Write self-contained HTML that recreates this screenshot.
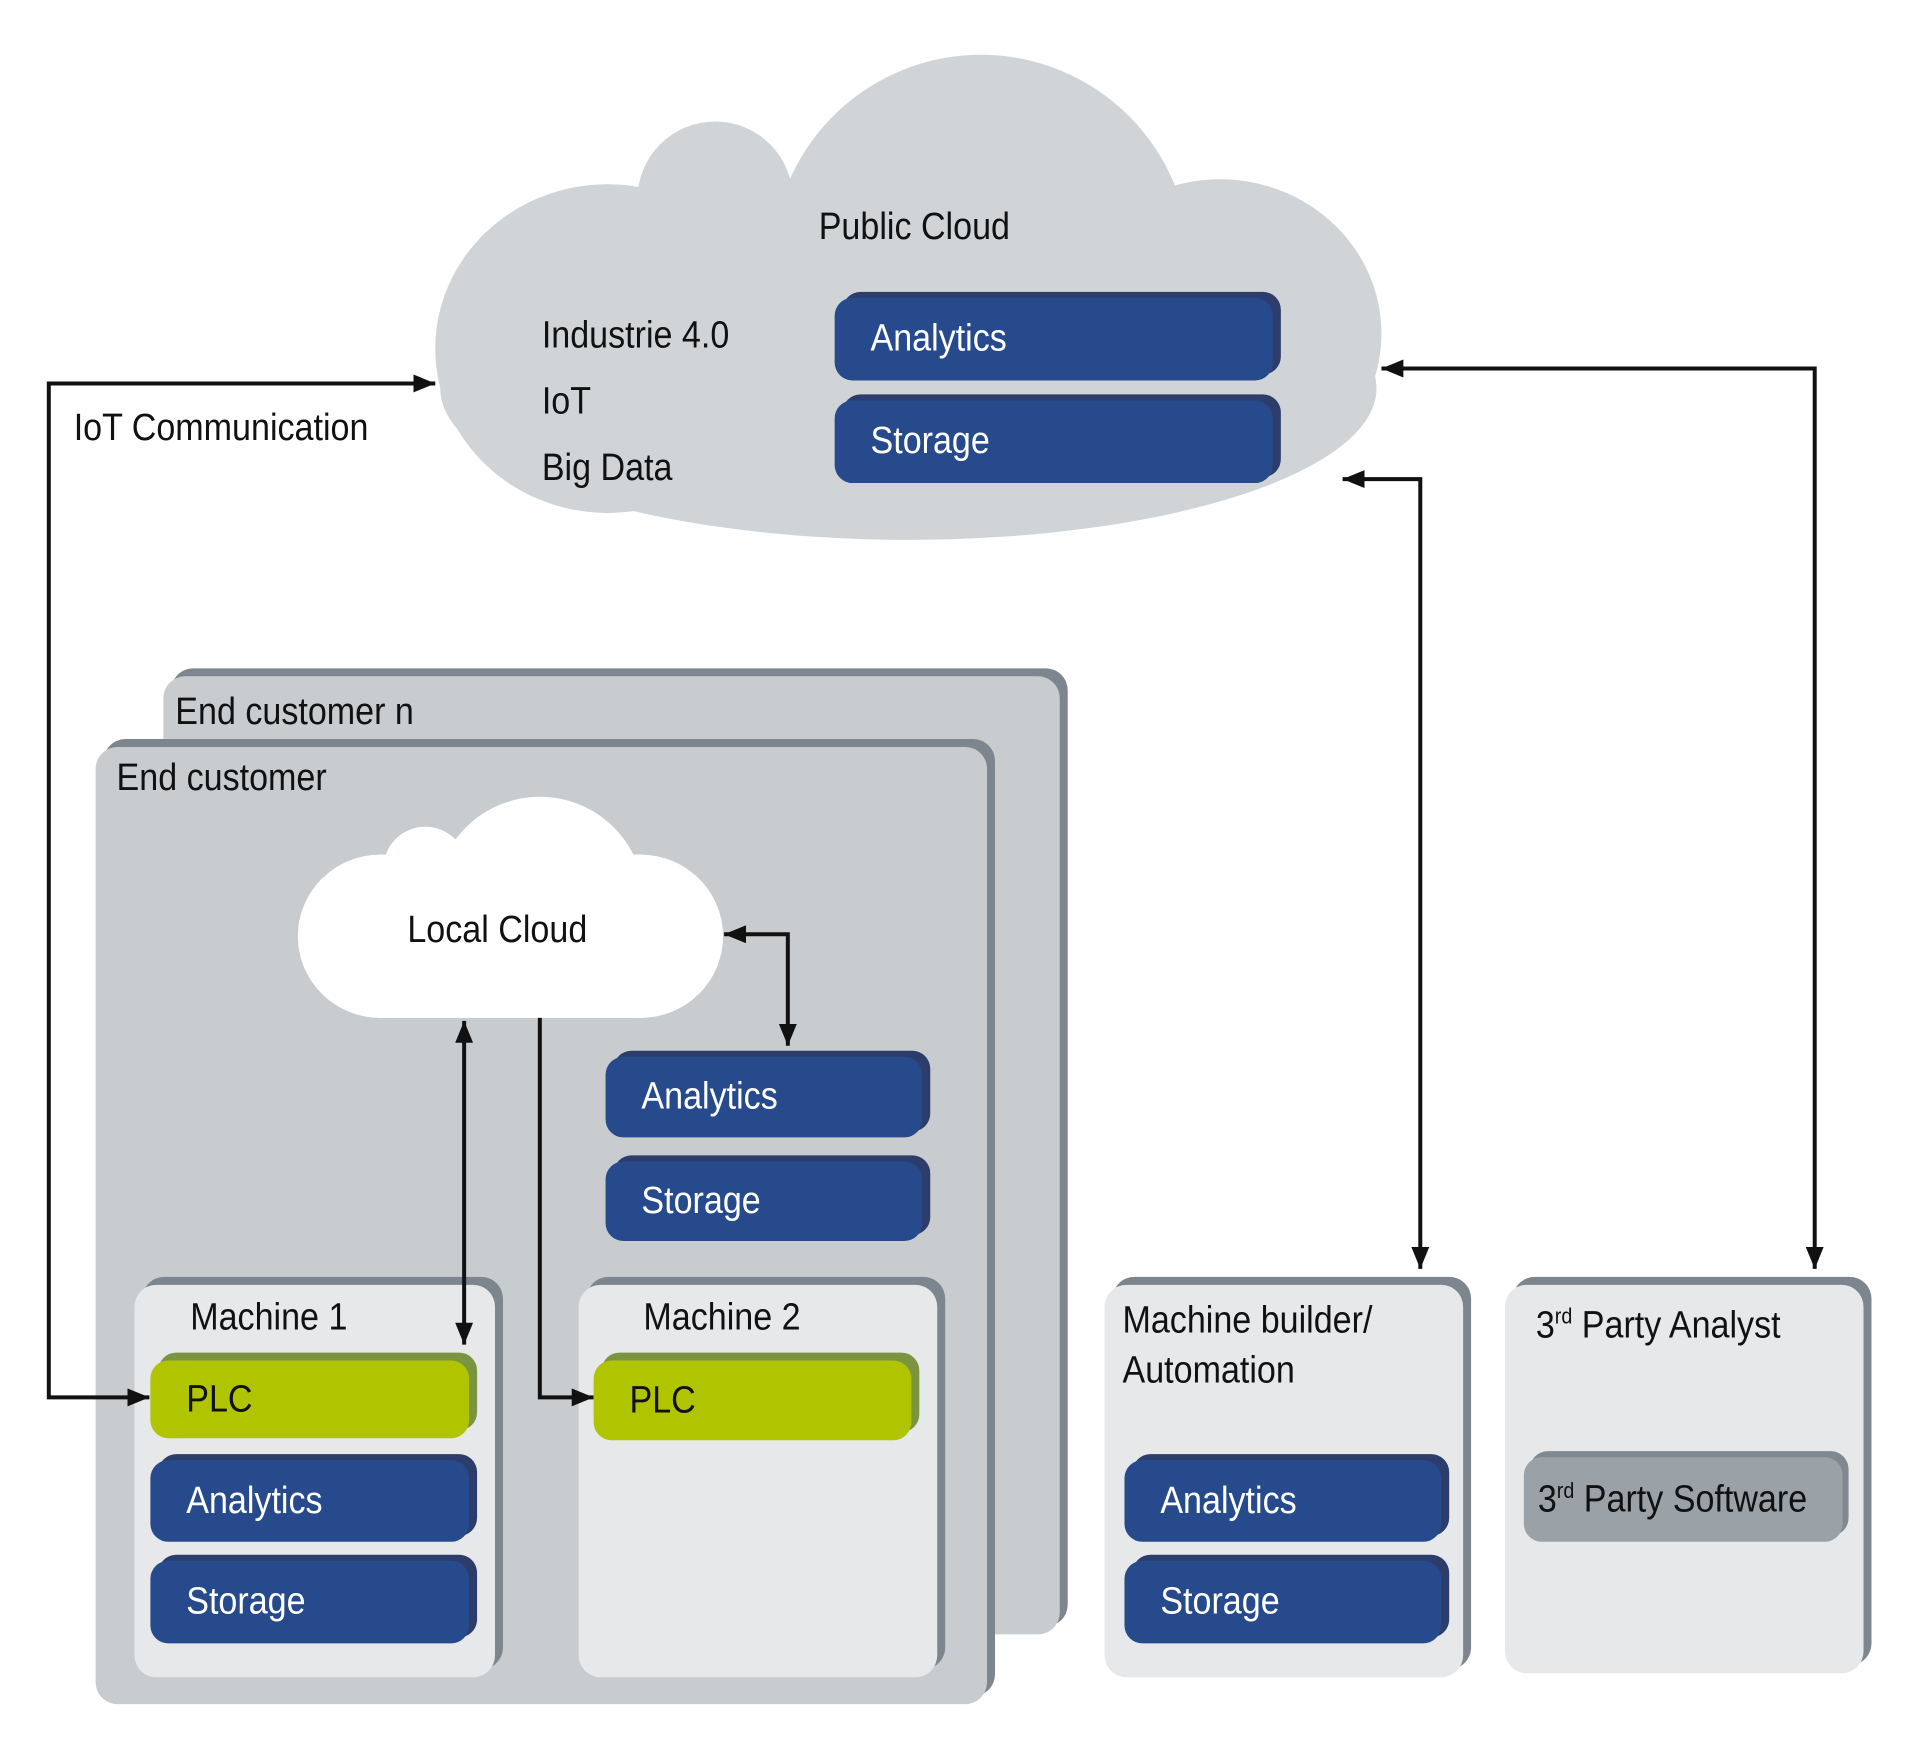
<!DOCTYPE html>
<html><head><meta charset="utf-8"><style>
body{margin:0;width:1920px;height:1745px;background:#fff;position:relative;overflow:hidden;font-family:"Liberation Sans",sans-serif}
#w{position:absolute;left:0;top:0;width:1920px;height:1745px;transform:scale(0.996,0.996);transform-origin:0 0}
.t{position:absolute;font-size:38px;color:#111;white-space:nowrap;transform:scaleX(0.9);transform-origin:left center;line-height:1}
.panel{position:absolute;border-radius:22px;box-shadow:8px -8px 0 #7d868e}
.btn{position:absolute;border-radius:18px;color:#fff;font-size:38px;box-sizing:border-box;padding-left:36px;display:flex;align-items:center}
.btn span{display:inline-block;transform:scaleX(0.9);transform-origin:left center}
.blue{background:#264a8b;box-shadow:8px -6px 0 #2d3d6b}
.plc{background:#b0c400;box-shadow:8px -8px 0 #7b9440;color:#111}
.sw{background:#9aa2a8;box-shadow:6px -6px 0 #80898f;color:#111}
</style></head><body><div id="w">
<svg width="1920" height="1745" style="position:absolute;left:0;top:0">
<g fill="#d0d4d7">
<ellipse cx="912" cy="390" rx="470" ry="152"/>
<ellipse cx="610" cy="350" rx="173" ry="165"/>
<ellipse cx="1225" cy="335" rx="162" ry="155"/>
<circle cx="985" cy="265" r="210"/>
<circle cx="718" cy="200" r="78"/>
<rect x="700" y="200" width="420" height="200"/>
</g>
</svg>
<div class="panel" style="left:164px;top:679px;width:900px;height:962px;background:#c8cccf"></div>
<div class="panel" style="left:96px;top:750px;width:895px;height:961px;background:#c8cccf"></div>
<div class="panel" style="left:135px;top:1290px;width:362px;height:394px;background:#e6e8ea"></div>
<div class="panel" style="left:581px;top:1290px;width:360px;height:394px;background:#e6e8ea"></div>
<div class="panel" style="left:1109px;top:1290px;width:360px;height:394px;background:#e6e8ea"></div>
<div class="panel" style="left:1511px;top:1290px;width:360px;height:390px;background:#e6e8ea"></div>
<svg width="1920" height="1745" style="position:absolute;left:0;top:0">
<g fill="#fff">
<ellipse cx="382" cy="940" rx="83" ry="82"/>
<ellipse cx="643" cy="940" rx="83" ry="82"/>
<rect x="380" y="858" width="265" height="164"/>
<circle cx="542" cy="905" r="105"/>
<circle cx="427" cy="872" r="42"/>
</g>
<defs>
<marker id="b" markerWidth="22" markerHeight="18" refX="22" refY="9" orient="auto" markerUnits="userSpaceOnUse"><path d="M0,0 L22,9 L0,18z" fill="#111"/></marker>
<marker id="c" markerWidth="22" markerHeight="18" refX="0" refY="9" orient="auto" markerUnits="userSpaceOnUse"><path d="M22,0 L0,9 L22,18z" fill="#111"/></marker></defs>
<g stroke="#111" stroke-width="4" fill="none">
<path d="M437,385 H49 V1403 H150" marker-start="url(#c)" marker-end="url(#b)"/>
<path d="M1387,370 H1822 V1274" marker-start="url(#c)" marker-end="url(#b)"/>
<path d="M1348,481 H1426 V1274" marker-start="url(#c)" marker-end="url(#b)"/>
<path d="M727,938 H791 V1050" marker-start="url(#c)" marker-end="url(#b)"/>
<path d="M466,1025 V1350" marker-start="url(#c)" marker-end="url(#b)"/>
<path d="M542,1022 V1403 H596" marker-end="url(#b)"/>
</g>
</svg>
<div class="t" style="left:822px;top:209px">Public Cloud</div>
<div class="t" style="left:544px;top:318px">Industrie 4.0</div>
<div class="t" style="left:544px;top:384px">IoT</div>
<div class="t" style="left:544px;top:451px">Big Data</div>
<div class="t" style="left:74px;top:411px">IoT Communication</div>
<div class="t" style="left:176px;top:696px">End customer n</div>
<div class="t" style="left:117px;top:762px">End customer</div>
<div class="t" style="left:409px;top:915px">Local Cloud</div>
<div class="t" style="left:191px;top:1304px">Machine 1</div>
<div class="t" style="left:646px;top:1304px">Machine 2</div>
<div class="t" style="left:1127px;top:1307px">Machine builder/</div>
<div class="t" style="left:1127px;top:1357px">Automation</div>
<div class="t" style="left:1542px;top:1311px">3<sup style="font-size:22px">rd</sup> Party Analyst</div>
<div class="btn blue" style="left:838px;top:299px;width:440px;height:83px"><span>Analytics</span></div>
<div class="btn blue" style="left:838px;top:402px;width:440px;height:83px"><span>Storage</span></div>
<div class="btn blue" style="left:608px;top:1061px;width:318px;height:81px"><span>Analytics</span></div>
<div class="btn blue" style="left:608px;top:1166px;width:318px;height:80px"><span>Storage</span></div>
<div class="btn plc" style="left:151px;top:1366px;width:320px;height:78px"><span>PLC</span></div>
<div class="btn plc" style="left:596px;top:1366px;width:319px;height:80px"><span>PLC</span></div>
<div class="btn blue" style="left:151px;top:1466px;width:320px;height:82px"><span>Analytics</span></div>
<div class="btn blue" style="left:151px;top:1567px;width:320px;height:83px"><span>Storage</span></div>
<div class="btn blue" style="left:1129px;top:1466px;width:318px;height:82px"><span>Analytics</span></div>
<div class="btn blue" style="left:1129px;top:1567px;width:318px;height:83px"><span>Storage</span></div>
<div class="btn sw" style="left:1530px;top:1463px;width:320px;height:85px;padding-left:14px"><span>3<sup style="font-size:22px">rd</sup> Party Software</span></div>
</div></body></html>
